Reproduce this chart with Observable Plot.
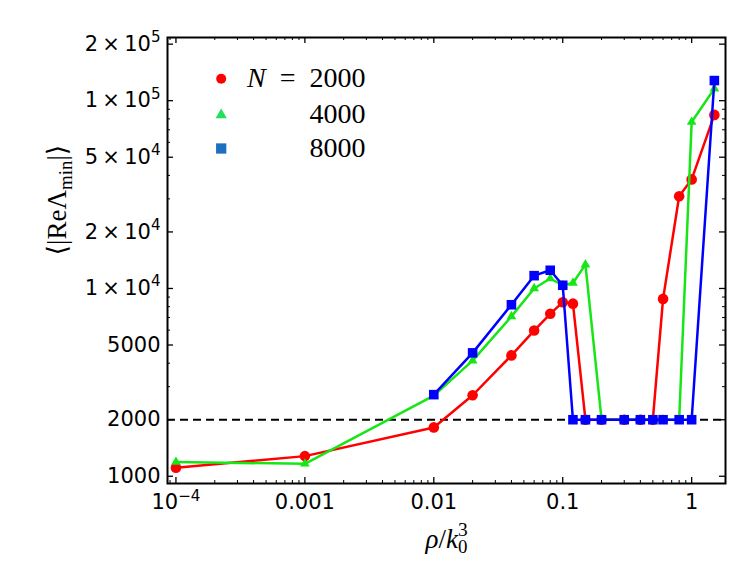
<!DOCTYPE html>
<html><head><meta charset="utf-8">
<script src="https://cdn.jsdelivr.net/npm/d3@7"></script>
<script src="https://cdn.jsdelivr.net/npm/@observablehq/plot@0.6"></script>
<style>body{margin:0;background:#fff} #chart{width:748px;height:561px}</style>
</head><body><div id="chart"></div>
<script>
// ---- data ----
const rho2000 = [1e-4, 0.001, 0.01, 0.02, 0.04, 0.06, 0.08, 0.1, 0.12, 0.15, 0.2, 0.3, 0.4, 0.5, 0.6, 0.8, 1.0, 1.5];
const val2000 = [1110, 1280, 1820, 2700, 4400, 5970, 7330, 8450, 8300, 2000, 2000, 2000, 2000, 2000, 8800, 31000, 38100, 84000];
const rho4000 = [1e-4, 0.001, 0.01, 0.02, 0.04, 0.06, 0.08, 0.1, 0.12, 0.15, 0.2, 0.3, 0.4, 0.5, 0.6, 0.8, 1.0, 1.5];
const val4000 = [1190, 1165, 2690, 4130, 7100, 10000, 11300, 10400, 10700, 13400, 2000, 2000, 2000, 2000, 2000, 2000, 77000, 116000];
const rho8000 = [0.01, 0.02, 0.04, 0.06, 0.08, 0.1, 0.12, 0.15, 0.2, 0.3, 0.4, 0.5, 0.6, 0.8, 1.0, 1.5];
const val8000 = [2720, 4540, 8190, 11700, 12500, 10400, 2000, 2000, 2000, 2000, 2000, 2000, 2000, 2000, 2000, 128000];
const threshold = 2000;

const seriesNames = ["2000", "4000", "8000"];
const xTickValues = [1e-4, 0.001, 0.01, 0.1, 1];
const xTickLabels = ["10^{−4}", "0.001", "0.01", "0.1", "1"];
const yTickValues = [1000, 2000, 5000, 1e4, 2e4, 5e4, 1e5, 2e5];
const yTickLabels = ["1000", "2000", "5000", "1 × 10^{4}", "2 × 10^{4}", "5 × 10^{4}", "1 × 10^{5}", "2 × 10^{5}"];

// ---- build tables ----
const d2000 = rho2000.map((r, i) => ({rho: r, v: val2000[i]}));
const d4000 = rho4000.map((r, i) => ({rho: r, v: val4000[i]}));
const d8000 = rho8000.map((r, i) => ({rho: r, v: val8000[i]}));

const W = 748, H = 561, mL = 167, mR = 23, mT = 37, mB = 78;
const innerH = H - mT - mB, innerW = W - mL - mR;
const xDomain = [8.6e-5, 1.83], yDomain = [915, 2.17e5];

function minorTicks(domain, majors) {
  const out = [];
  for (let e = -6; e <= 6; e++) for (let k = 1; k <= 9; k++) {
    const v = k * Math.pow(10, e);
    if (v >= domain[0] && v <= domain[1] && !majors.some(m => Math.abs(m - v) / v < 1e-9)) out.push(v);
  }
  return out;
}
const xMinor = minorTicks(xDomain, xTickValues);
const yMinor = minorTicks(yDomain, yTickValues);

const RED = "#ff0000", GREEN = "#16e616", BLUE = "#0000ff";
const serif = "Liberation Serif, DejaVu Serif, serif";
const sans = "DejaVu Sans, Liberation Sans, sans-serif";
const TL = 6, TS = 3;

const chart = Plot.plot({
  width: W, height: H,
  marginLeft: mL, marginRight: mR, marginTop: mT, marginBottom: mB,
  style: {fontFamily: sans, fontSize: "21px", color: "black", background: "white"},
  x: {type: "log", domain: xDomain},
  y: {type: "log", domain: yDomain},
  marks: [
    Plot.ruleY([threshold], {stroke: "black", strokeWidth: 2, strokeDasharray: "8,5"}),
    // series
    Plot.line(d2000, {x: "rho", y: "v", stroke: RED, strokeWidth: 2.5}),
    Plot.dot(d2000, {x: "rho", y: "v", fill: RED, r: 5.3, symbol: "circle"}),
    Plot.line(d4000, {x: "rho", y: "v", stroke: GREEN, strokeWidth: 2.5}),
    Plot.dot(d4000, {x: "rho", y: "v", fill: GREEN, r: 3.6, symbol: "triangle"}),
    Plot.line(d8000, {x: "rho", y: "v", stroke: BLUE, strokeWidth: 2.5}),
    Plot.dot(d8000, {x: "rho", y: "v", fill: BLUE, r: 5.4, symbol: "square"}),
    // inward ticks
    Plot.tickX(xTickValues, {insetTop: innerH - TL, stroke: "black", strokeWidth: 1.3}),
    Plot.tickX(xTickValues, {insetBottom: innerH - TL, stroke: "black", strokeWidth: 1.3}),
    Plot.tickX(xMinor, {insetTop: innerH - TS, stroke: "black", strokeWidth: 1}),
    Plot.tickX(xMinor, {insetBottom: innerH - TS, stroke: "black", strokeWidth: 1}),
    Plot.tickY(yTickValues, {insetRight: innerW - TL, stroke: "black", strokeWidth: 1.3}),
    Plot.tickY(yTickValues, {insetLeft: innerW - TL, stroke: "black", strokeWidth: 1.3}),
    Plot.tickY(yMinor, {insetRight: innerW - TS, stroke: "black", strokeWidth: 1}),
    Plot.tickY(yMinor, {insetLeft: innerW - TS, stroke: "black", strokeWidth: 1}),
    Plot.frame({stroke: "black", strokeWidth: 2}),
    // tick labels
    Plot.axisX({ticks: xTickValues, tickFormat: d => xTickLabels[xTickValues.indexOf(d)], tickSize: 0, tickPadding: 11, label: null, fontSize: 21}),
    Plot.axisY({ticks: yTickValues, tickFormat: d => yTickLabels[yTickValues.indexOf(d)], tickSize: 0, tickPadding: 7, label: null, fontSize: 21}),
    // axis titles
    Plot.text(["~{ρ}/~{k}_{0}!{3}"], {frameAnchor: "bottom", dy: 64, lineAnchor: "bottom", fontFamily: serif, fontSize: 27, fill: "black"}),
    Plot.text(["⟨|ReΛ_{min}|⟩"], {frameAnchor: "left", dx: -110, dy: -5, rotate: -90, fontFamily: serif, fontSize: 27, fill: "black"}),
    // legend
    Plot.dot([0], {frameAnchor: "top-left", dx: 53.7, dy: 41.3, r: 5, fill: RED, symbol: "circle"}),
    Plot.dot([0], {frameAnchor: "top-left", dx: 53.7, dy: 77.5, r: 4.2, fill: "#22e05a", symbol: "triangle"}),
    Plot.dot([0], {frameAnchor: "top-left", dx: 53.7, dy: 111, r: 5.8, fill: "#1f6fc0", symbol: "square"}),
    Plot.text(["~{N}\u2002=\u2002" + seriesNames[0]], {frameAnchor: "top-left", dx: 198, dy: 49.7, lineAnchor: "bottom", textAnchor: "end", fontFamily: serif, fontSize: 28, fill: "black"}),
    Plot.text([seriesNames[1]], {frameAnchor: "top-left", dx: 198, dy: 85.7, lineAnchor: "bottom", textAnchor: "end", fontFamily: serif, fontSize: 28, fill: "black"}),
    Plot.text([seriesNames[2]], {frameAnchor: "top-left", dx: 198, dy: 119.7, lineAnchor: "bottom", textAnchor: "end", fontFamily: serif, fontSize: 28, fill: "black"})
  ]
});
document.getElementById("chart").appendChild(chart);

// rich text: ~{} italic, ^{} superscript, _{} subscript, !{} superscript stacked over previous subscript
function richify(svg) {
  const NS = "http://www.w3.org/2000/svg";
  svg.querySelectorAll("text").forEach(t => {
    const s = t.textContent;
    if (!/[\^_~!]\{/.test(s)) return;
    const fs = parseFloat(getComputedStyle(t).fontSize) || 20;
    while (t.firstChild) t.removeChild(t.firstChild);
    const re = /([\^_~!])\{([^}]*)\}|([^\^_~!]+)/g;
    let m, shift = 0, last = null;
    while ((m = re.exec(s))) {
      const ts = document.createElementNS(NS, "tspan");
      let target = 0;
      if (m[3] !== undefined) {
        ts.textContent = m[3].replace(/ × /g, "\u2009×\u2009");
      } else {
        ts.textContent = m[2];
        const k = m[1];
        if (k === "~") ts.setAttribute("font-style", "italic");
        if (k === "^" || k === "!") { target = -0.42 * fs; ts.setAttribute("font-size", (0.72 * fs) + "px"); }
        if (k === "_") { target = 0.22 * fs; ts.setAttribute("font-size", (0.7 * fs) + "px"); }
        if (k === "!" && last) {
          let w = 0; try { w = last.getComputedTextLength(); } catch (e) { w = 0.35 * fs; }
          ts.setAttribute("dx", (-w) + "px");
        }
      }
      if (target !== shift) { ts.setAttribute("dy", (target - shift) + "px"); shift = target; }
      t.appendChild(ts);
      last = ts;
    }
  });
  svg.querySelectorAll("text").forEach(t => {
    if (!t.firstElementChild && t.textContent.includes(" × ")) t.textContent = t.textContent.replace(/ × /g, "\u2009×\u2009");
  });
}
richify(chart);
</script>
</body></html>
